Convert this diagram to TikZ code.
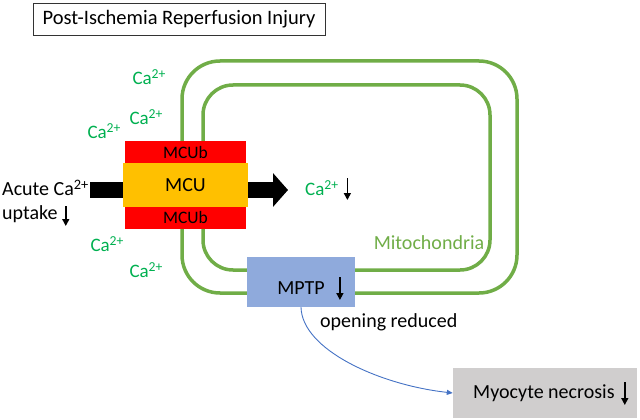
\documentclass[tikz,border=0pt]{standalone}
\usepackage{fontspec}
\setmainfont{Carlito}
\usetikzlibrary{arrows.meta,calc}
\definecolor{mito}{RGB}{112,173,71}
\definecolor{cagreen}{RGB}{0,176,80}
\definecolor{mcured}{RGB}{255,0,0}
\definecolor{mcuyel}{RGB}{255,192,0}
\definecolor{mptpc}{RGB}{143,170,220}
\definecolor{necro}{RGB}{208,206,206}
\definecolor{curvec}{RGB}{68,114,196}
\newcommand{\caion}{Ca\raisebox{0.3em}{\scalebox{0.72}{2+}}}
\begin{document}
\begin{tikzpicture}[x=1pt,y=-1pt,
  catext/.style={text=cagreen,font=\fontsize{19}{21}\selectfont,inner sep=0pt},
  lbl/.style={font=\fontsize{20}{22}\selectfont,inner sep=0pt},
  mito/.style={draw=mito,line width=3.5pt},
  redbox/.style={fill=mcured,minimum width=121pt,inner sep=0pt,font=\fontsize{17.5}{19}\selectfont},
  downarr/.style={-{Triangle[length=7pt,width=7pt]},line width=1.5pt}]
\useasboundingbox (0,0) rectangle (640,420);
% title
\node[draw=black!80,line width=0.8pt,minimum width=292pt,minimum height=32pt,inner sep=0pt,font=\fontsize{20.5}{22}\selectfont] (title) at (179,19) {Post-Ischemia Reperfusion Injury};
% mitochondria membranes
\draw[mito,rounded corners=38pt] (182,61) rectangle (517,293);
\draw[mito,rounded corners=30pt] (203,85) rectangle (490,270);
\node[text=mito,font=\fontsize{20}{22}\selectfont,inner sep=0pt] (mitolbl) at (429,243) {Mitochondria};
% MCU complex
\node[redbox,minimum height=23pt] (mcubt) at (185.5,152) {MCUb};
\node[redbox,minimum height=22pt] (mcubb) at (185.5,217.5) {MCUb};
\node[fill=mcuyel,minimum width=125pt,minimum height=44pt,inner sep=0pt,font=\fontsize{20}{22}\selectfont] (mcu) at (185.5,185) {MCU};
% influx arrows
\coordinate (inL) at (90,190);
\draw[line width=16pt] (inL) -- (mcu.west|-inL);
\coordinate (outR) at (288,190);
\draw[line width=16pt,-{Triangle[length=15pt,width=33pt]}] (mcu.east|-outR) -- (outR);
% labels left
\node[lbl,anchor=west] (acute) at (2,188) {Acute \caion};
\node[lbl,anchor=west] (uptake) at (2,214) {uptake};
\draw[downarr] ($(uptake.east)+(8,-8)$) -- ++(0,20);
% calcium ions outside
\node[catext] (ca1) at (149,77) {\caion};
\node[catext] (ca2) at (146,117) {\caion};
\node[catext] (ca3) at (104,131) {\caion};
\node[catext] (ca4) at (107,244) {\caion};
\node[catext] (ca5) at (146,270) {\caion};
% calcium inside
\node[catext,anchor=west] (cain) at (305,188) {\caion};
\draw[downarr] ($(cain.east)+(9,-10)$) -- ++(0,22);
% MPTP
\node[fill=mptpc,minimum width=108pt,minimum height=50pt,inner sep=0pt] (mptp) at (301,282) {};
\node[lbl] (mptpt) at (301,288) {MPTP};
\draw[downarr] ($(mptpt.east)+(15,-11)$) -- ++(0,23);
\node[lbl,anchor=west] (opening) at (320,322) {opening reduced};
% necrosis
\node[fill=necro,minimum width=184pt,minimum height=50pt,inner sep=0pt] (necro) at (545,393) {};
\node[lbl,anchor=west] (necrot) at (473,393) {Myocyte necrosis};
\draw[downarr] ($(necrot.east)+(10,-11)$) -- ++(0,23);
% curve
\draw[curvec,line width=0.9pt,-{Triangle[length=6pt,width=5pt]}] (mptp.south) .. controls (302,350) and (380,385) .. (necro.west);
\end{tikzpicture}
\end{document}
